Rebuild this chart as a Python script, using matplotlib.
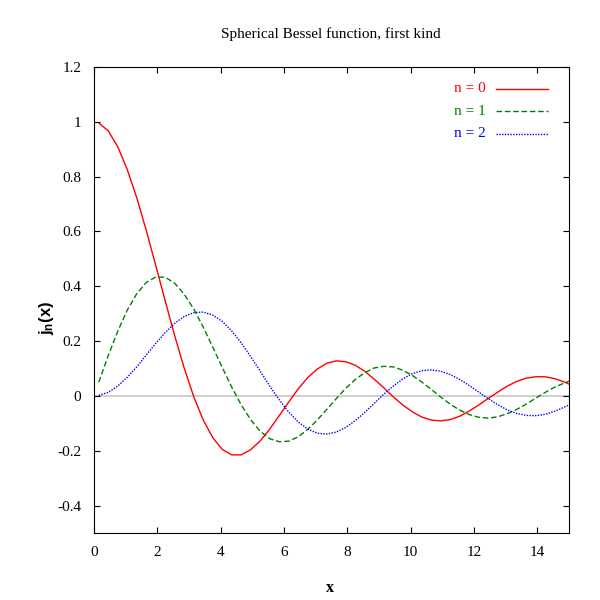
import matplotlib
matplotlib.use("Agg")
import matplotlib.pyplot as plt
from matplotlib.lines import Line2D

# values
x = [0.15, 0.45, 0.75, 1.05, 1.35, 1.65, 1.95, 2.25, 2.55, 2.85,
     3.15, 3.45, 3.75, 4.05, 4.35, 4.65, 4.95, 5.25, 5.55, 5.85,
     6.15, 6.45, 6.75, 7.05, 7.35, 7.65, 7.95, 8.25, 8.55, 8.85,
     9.15, 9.45, 9.75, 10.05, 10.35, 10.65, 10.95, 11.25, 11.55, 11.85,
     12.15, 12.45, 12.75, 13.05, 13.35, 13.65, 13.95, 14.25, 14.55, 14.85, 15.0]
j0 = [0.996, 0.967, 0.909, 0.826, 0.723, 0.604, 0.476, 0.346, 0.219, 0.101,
      -0.003, -0.088, -0.152, -0.195, -0.215, -0.215, -0.196, -0.164, -0.121, -0.072,
      -0.022, 0.026, 0.067, 0.098, 0.119, 0.128, 0.125, 0.112, 0.090, 0.061,
      0.030, -0.003, -0.033, -0.058, -0.077, -0.088, -0.091, -0.086, -0.074, -0.055,
      -0.033, -0.009, 0.014, 0.036, 0.053, 0.065, 0.070, 0.070, 0.063, 0.051, 0.043]
j1 = [0.050, 0.147, 0.236, 0.313, 0.373, 0.414, 0.434, 0.433, 0.411, 0.371,
      0.317, 0.251, 0.178, 0.104, 0.032, -0.033, -0.087, -0.129, -0.156, -0.167,
      -0.165, -0.149, -0.122, -0.088, -0.049, -0.010, 0.028, 0.060, 0.085, 0.102,
      0.108, 0.106, 0.094, 0.075, 0.051, 0.024, -0.004, -0.030, -0.052, -0.068,
      -0.078, -0.081, -0.076, -0.065, -0.049, -0.030, -0.008, 0.013, 0.032, 0.047, 0.054]
j2 = [0.002, 0.013, 0.036, 0.068, 0.106, 0.149, 0.192, 0.231, 0.265, 0.290,
      0.304, 0.306, 0.295, 0.272, 0.237, 0.194, 0.143, 0.090, 0.036, -0.014,
      -0.059, -0.095, -0.121, -0.136, -0.139, -0.132, -0.115, -0.090, -0.060, -0.027,
      0.006, 0.036, 0.062, 0.081, 0.092, 0.095, 0.090, 0.078, 0.060, 0.038,
      0.014, -0.010, -0.032, -0.051, -0.064, -0.071, -0.072, -0.067, -0.056, -0.041, -0.033]
labels = ["n = 0", "n = 1", "n = 2"]
xticks = [0, 2, 4, 6, 8, 10, 12, 14]
yticks = [-0.4, -0.2, 0, 0.2, 0.4, 0.6, 0.8, 1, 1.2]

plt.rcParams['font.family'] = ['Liberation Serif', 'DejaVu Serif']
plt.rcParams['mathtext.fontset'] = 'custom'
plt.rcParams['mathtext.rm'] = 'Liberation Sans'
plt.rcParams['mathtext.bf'] = 'Liberation Sans:bold'

colors = ['#ff0000', '#008000', '#0000ff']
styles = ['-', (0, (4, 2)), (0, (1, 1))]

fig = plt.figure(figsize=(6, 6), dpi=100)
ax = fig.add_axes([94/600, 67/600, 475/600, 466/600])

ax.axhline(0, color='#cccccc', lw=1.3, zorder=1)
for ys, c, ls in zip([j0, j1, j2], colors, styles):
    ax.plot(x, ys, color=c, ls=ls, lw=1.0, zorder=2)

ax.set_xlim(0, 15)
ax.set_ylim(-0.5, 1.2)
ax.set_xticks(xticks)
ax.set_xticklabels([str(t) for t in xticks])
ax.set_yticks(yticks)
ax.set_yticklabels(["-0.4", "-0.2", "0", "0.2", "0.4", "0.6", "0.8", "1", "1.2"])
ax.tick_params(direction='in', length=4.5, width=0.8, top=True, right=True,
               labelsize=11, pad=9)
for sp in ax.spines.values():
    sp.set_linewidth(0.8)

fig.text(331/600, 1 - 34/600, "Spherical Bessel function, first kind",
         ha='center', va='center', fontsize=11)
fig.text(330/600, 1 - 588/600, "x", ha='center', va='center',
         fontsize=11.5, fontweight='bold')
fig.text(47/600, 1 - 318/600, r"$\mathbf{j_n(x)}$", ha='center', va='center',
         fontsize=12, rotation=90)

# key, gnuplot style: label first, sample line after
for i, (lab, c, ls) in enumerate(zip(labels, colors, styles)):
    yy = 1 - (88.5 + 22.5*i)/600
    fig.text(486/600, yy, lab, ha='right', va='center', color=c, fontsize=11)
    fig.add_artist(Line2D([496/600, 548/600], [yy, yy], color=c, ls=ls, lw=1.0,
                          transform=fig.transFigure))

fig.savefig("out.png", dpi=100)
